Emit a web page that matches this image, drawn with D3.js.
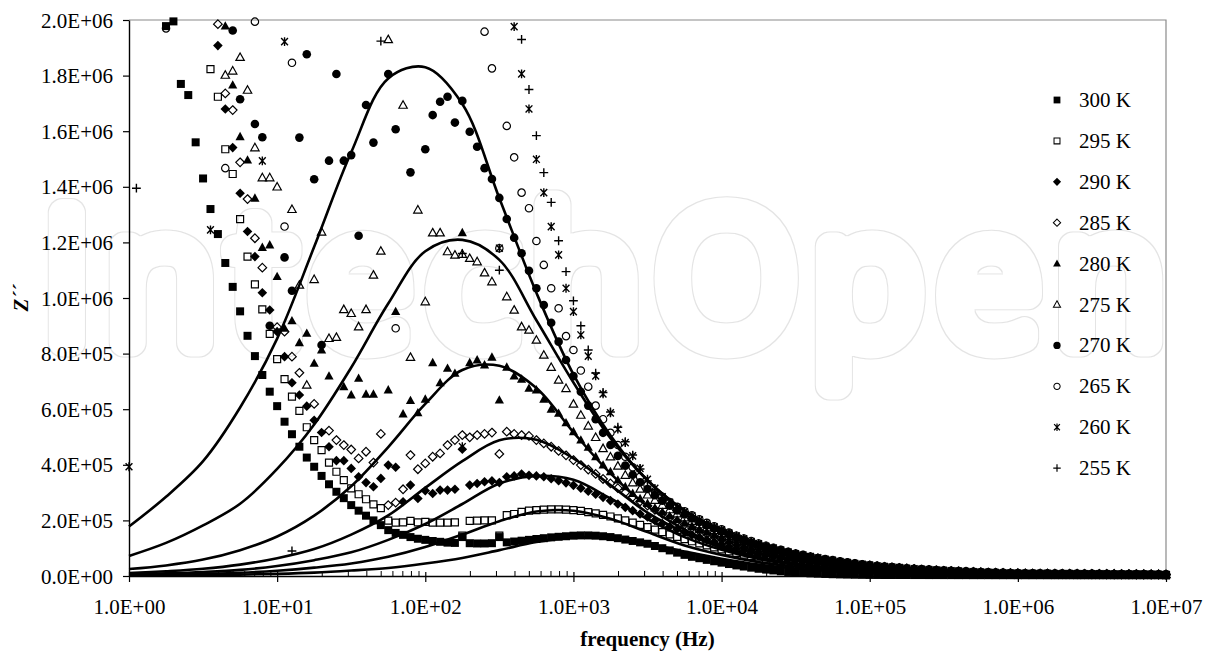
<!DOCTYPE html>
<html>
<head>
<meta charset="utf-8">
<script src="https://cdn.jsdelivr.net/npm/d3@7"></script>
<style>
  html, body { margin: 0; padding: 0; background: #fff; }
  svg { display: block; }
</style>
</head>
<body>
<svg id="chart" width="1211" height="653"></svg>
<script>
// ---------- data ----------
const _ = null;   // no reading on the chart at this frequency

// measurement frequencies: 20 points per decade, 1 Hz .. 10 MHz
const freqMantissas = [1, 1.122, 1.259, 1.413, 1.585, 1.778, 1.995, 2.239, 2.512, 2.818,
                       3.162, 3.548, 3.981, 4.467, 5.012, 5.623, 6.310, 7.079, 7.943, 8.913];
const freqDecades = [1, 10, 100, 1000, 10000, 100000, 1000000];
const freqLast = 10000000;

const xTicks = [1, 10, 100, 1000, 10000, 100000, 1000000, 10000000];
const minorSteps = [2, 3, 4, 5, 6, 7, 8, 9];
const yTicks = [0, 200000, 400000, 600000, 800000, 1000000, 1200000, 1400000, 1600000, 1800000, 2000000];

const seriesLabels = ["300 K", "295 K", "290 K", "285 K", "280 K", "275 K", "270 K", "265 K", "260 K", "255 K"];

// Z'' in kOhm, one value per measurement frequency
const z300 = [
  _, _, _, _, _, 1978, 1995, 1770, 1730, 1560, 1430, 1320, 1230, 1126, 1040, 952, 864, 791, 723, 663,
  611, 555, 510, 465, 426, 393, 360, 330, 303, 280, 255, 235, 217, 200, 183, 165, 155, 148, 140, 134,
  130, 126, 123, 120, 119, 140, 118, 117, 117, 118, 140, 121, 124, 127, 130, 133, 136, 139, 141, 143,
  145, 146, 146, 145, 143, 140, 136, 131, 126, 121, 116, 108, 100, 92, 84, 76, 69, 64, 58, 53,
  48, 43, 38, 34, 30, 26, 23, 20, 17, 14.5, 12.5, 11, 9.5, 8.3, 7.3, 6.4, 5.6, 5.0, 4.5, 4.1,
  3.8, 3.7, 3.6, 3.6, 3.5, 3.5, 3.4, 3.4, 3.3, 3.3, 3.2, 3.2, 3.1, 3.1, 3.0, 3.0, 3.0, 2.9, 2.9, 2.9,
  2.8, 2.8, 2.8, 2.8, 2.7, 2.7, 2.7, 2.7, 2.6, 2.6, 2.6, 2.6, 2.6, 2.5, 2.5, 2.5, 2.5, 2.5, 2.5, 2.5,
  2.5];
const z295 = [
  _, _, _, _, _, _, _, _, _, _, _, 1823, 1724, 1535, 1446, 1284, 1149, 1049, 959, 871,
  780, 708, 645, 594, 535, 489, 453, 408, 375, 345, 315, 294, 276, 258, 244, 199, 192, 193, 198, 193,
  195, 192, 192, 192, 193, 145, 198, 199, 200, 200, 145, 219, 223, 231, 235, 237, 239, 240, 240, 239,
  237, 234, 230, 225, 220, 214, 207, 200, 192, 184, 176, 167, 158, 150, 141, 133, 125, 117, 110, 103,
  96, 89, 83, 77, 72, 67, 62, 58, 54, 50, 46, 43, 40, 37, 35, 32, 30, 28, 26, 24,
  22.5, 21, 19.7, 18.3, 17.2, 16, 15, 14, 13.2, 12.3, 11.4, 10.8, 10, 9.4, 8.7, 8.2, 7.7, 7.2, 6.7, 6.2,
  5.9, 5.7, 5.6, 5.4, 5.3, 5.2, 5.0, 4.9, 4.8, 4.7, 4.6, 4.4, 4.3, 4.2, 4.1, 4.0, 3.9, 3.8, 3.7, 3.6,
  3.5];
const z290 = [
  _, _, _, _, _, _, _, _, _, _, _, _, 1908, 1680, 1541, 1377, 1239, 1149, 1019, 957,
  879, 789, 695, 651, 611, 560, 516, 465, 415, 415, 387, 357, 336, 321, 351, 399, 391, 267, 327, 279,
  307, 297, 309, 309, 312, 456, 327, 333, 339, 342, 336, 357, 360, 367, 362, 360, 357, 350, 343, 335,
  326, 316, 305, 294, 283, 271, 259, 247, 235, 223, 212, 200, 189, 178, 168, 158, 148, 139, 130, 122,
  114, 106, 99, 92, 85, 79, 74, 69, 64, 59, 55, 51, 48, 44, 41, 38, 36, 33, 31, 29,
  27, 25, 23, 22, 20, 19, 17.8, 16.6, 15.6, 14.6, 13.6, 12.8, 11.9, 11.2, 10.4, 9.7, 9.1, 8.6, 8.0, 7.4,
  7.0, 6.8, 6.6, 6.5, 6.3, 6.1, 6.0, 5.8, 5.7, 5.5, 5.4, 5.3, 5.1, 5.0, 4.9, 4.8, 4.7, 4.5, 4.4, 4.3,
  4.2];
const z285 = [
  _, _, _, _, _, _, _, _, _, _, _, _, 1985, 1736, 1676, 1488, 1356, 1215, 1109, _,
  895, 879, 789, 731, _, 619, _, 523, 489, 471, 455, 423, 447, 408, 511, 255, 264, 312, 435, 384,
  405, 429, 441, 471, 489, 507, 499, 507, 511, 516, 439, 519, 511, 507, 504, 489, 477, 465, 450, 434,
  417, 399, 383, 367, 349, 333, 316, 300, 284, 268, 253, 238, 224, 210, 197, 185, 173, 162, 152, 142,
  133, 124, 115, 107, 99, 93, 86, 80, 74, 69, 64, 60, 56, 52, 48, 45, 42, 39, 36, 34,
  31, 29, 27, 25, 24, 22, 20.7, 19.4, 18.2, 17, 15.8, 14.9, 13.8, 13, 12.1, 11.3, 10.6, 10, 9.3, 8.6,
  8.1, 7.9, 7.7, 7.5, 7.3, 7.2, 7.0, 6.8, 6.6, 6.5, 6.3, 6.1, 6.0, 5.9, 5.7, 5.6, 5.4, 5.3, 5.2, 5.0,
  4.9];
const z280 = [
  _, _, _, _, _, _, _, _, _, _, _, _, _, 1978, 1766, 1580, 1496, 1359, 1182, 1191,
  1077, 891, 918, 839, 873, 765, 813, 719, _, 681, 651, 711, 654, 654, _, 669, 951, 583, 631, 587,
  636, 767, 695, 747, 729, 1235, 767, 777, 759, 787, 633, 751, 719, 708, 675, 669, 636, 600, 585, 551,
  519, 489, 463, 429, 399, 375, 345, 321, 297, 278, 261, 245, 230, 216, 202, 190, 178, 167, 157, 147,
  138, 128, 119, 111, 103, 96, 89, 83, 77, 72, 67, 62, 58, 54, 50, 47, 43, 40, 37, 35,
  32, 30, 28, 26, 25, 23, 21.5, 20, 18.9, 17.7, 16.4, 15.5, 14.4, 13.5, 12.6, 11.7, 11, 10.4, 9.7, 9.0,
  8.4, 8.2, 8.0, 7.8, 7.6, 7.4, 7.2, 7.1, 6.9, 6.7, 6.5, 6.4, 6.2, 6.1, 5.9, 5.8, 5.6, 5.5, 5.4, 5.2,
  5.1];
const z275 = [
  _, _, _, _, _, _, _, _, _, _, _, _, _, 1802, 1817, 1866, 1748, 1541, 1433, 1433,
  1400, _, 1319, 1047, 687, 1067, 1238, 855, 859, 959, 945, 897, 959, 1083, 1169, 1930, _, 1694, 787, 1317,
  987, 1235, 1235, 1167, 1155, 1158, 1143, 1131, 1091, 1059, _, 1005, 957, 897, 885, 849, 795, 751, 705, 675,
  619, 579, 540, 499, 459, 429, 396, 363, 336, 313, 292, 273, 255, 239, 224, 210, 197, 185, 174, 164,
  154, 143, 133, 124, 115, 107, 100, 93, 86, 80, 75, 69, 65, 60, 56, 52, 48, 45, 42, 39,
  36, 34, 32, 29, 28, 26, 24, 22.5, 21, 19.7, 18.3, 17.2, 16, 15.1, 14, 13.1, 12.3, 11.6, 10.8, 10,
  9.4, 9.2, 8.9, 8.7, 8.5, 8.3, 8.1, 7.9, 7.7, 7.5, 7.3, 7.1, 6.9, 6.8, 6.6, 6.4, 6.3, 6.1, 6.0, 5.8,
  5.7];
const z270 = [
  _, _, _, _, _, _, _, _, _, _, _, _, _, _, 1962, 1715, _, 1626, 1578, 900,
  _, 1146, 1026, 1577, 1877, 1427, 831, 1494, 1806, 1494, 1514, 1224, 1694, 1559, _, 1806, 1607, _, 1452, _,
  1535, 1658, 1706, 1724, 1631, 1709, 1598, 1544, 1467, 1428, 1360, 1284, 1217, 1161, 1098, 1035, 975, 911, 843, 777,
  719, 663, 613, 564, 515, 471, 432, 397, 364, 337, 313, 291, 271, 253, 236, 221, 207, 194, 182, 171,
  161, 150, 139, 129, 120, 112, 104, 97, 90, 84, 78, 72, 67, 63, 58, 54, 50, 47, 44, 41,
  38, 35, 33, 31, 29, 27, 25, 23.5, 22, 20.6, 19.2, 18, 16.7, 15.8, 14.7, 13.7, 12.9, 12.1, 11.3, 10.5,
  9.8, 9.6, 9.3, 9.1, 8.9, 8.7, 8.5, 8.2, 8.0, 7.8, 7.6, 7.4, 7.3, 7.1, 6.9, 6.7, 6.6, 6.4, 6.2, 6.1,
  5.9];
const z265 = [
  _, _, _, _, _, 1970, _, _, _, _, _, _, _, 1467, _, _, _, 1994, _, _,
  _, 1257, 1846, _, _, _, _, _, _, _, _, _, _, _, _, _, 891, _, _, _,
  _, _, _, _, _, _, _, _, 1958, 1826, 1179, 1619, 1506, 1379, 1323, 1205, 1119, 1035, 963, 863,
  813, 739, 681, 613, 564, 515, 471, 429, 391, 357, 327, 305, 285, 266, 249, 233, 218, 204, 191, 179,
  168, 156, 145, 135, 126, 117, 109, 101, 94, 87, 81, 76, 70, 65, 61, 57, 53, 49, 46, 42,
  39, 37, 34, 32, 30, 28, 26, 25, 23, 21.5, 20, 18.8, 17.5, 16.5, 15.3, 14.3, 13.4, 12.6, 11.8, 10.9,
  10.2, 10.0, 9.7, 9.5, 9.3, 9.0, 8.8, 8.6, 8.4, 8.2, 8.0, 7.8, 7.6, 7.4, 7.2, 7.0, 6.9, 6.7, 6.5, 6.4,
  6.2];
const z260 = [
  393, _, _, _, _, _, _, _, _, _, _, 1245, _, _, _, _, _, _, 1493, _,
  _, 1922, _, _, _, _, _, _, _, _, _, _, _, _, _, _, _, _, _, _,
  _, _, _, _, _, 465, _, _, _, _, 1179, _, 1976, 1806, 1680, 1499, 1379, 1257, 1155, 1035,
  951, 867, 791, 720, 655, 587, 528, 480, 432, 387, 348, 315, 285, 265, 247, 231, 216, 202, 189, 177,
  166, 154, 144, 134, 124, 116, 107, 100, 93, 86, 80, 75, 70, 65, 60, 56, 52, 48, 45, 42,
  39, 36, 34, 32, 30, 28, 26, 24, 23, 21, 20, 18.6, 17.3, 16.3, 15.1, 14.1, 13.3, 12.5, 11.6, 10.8,
  10.1, 9.9, 9.6, 9.4, 9.2, 8.9, 8.7, 8.5, 8.3, 8.1, 7.9, 7.7, 7.5, 7.3, 7.1, 6.9, 6.8, 6.6, 6.4, 6.3,
  6.1];
const z255 = [
  _, 1395, _, _, _, _, _, _, _, _, _, _, _, _, _, _, _, _, _, _,
  _, _, 90, _, _, _, _, _, _, _, _, _, _, _, 1924, _, _, _, _, _,
  _, _, _, _, _, 1160, _, _, _, _, 1100, _, _, 1930, 1750, 1584, 1451, 1344, 1206, 1095,
  990, 900, 813, 730, 660, 590, 535, 483, 435, 385, 342, 310, 279, 260, 243, 227, 213, 199, 187, 176,
  165, 153, 143, 133, 123, 115, 107, 99, 92, 86, 80, 74, 69, 64, 60, 56, 52, 48, 45, 42,
  39, 36, 34, 32, 30, 28, 26, 24, 23, 21, 20, 18.5, 17.2, 16.2, 15, 14, 13.2, 12.4, 11.6, 10.7,
  10.1, 9.8, 9.6, 9.3, 9.1, 8.9, 8.7, 8.4, 8.2, 8.0, 7.8, 7.6, 7.4, 7.3, 7.1, 6.9, 6.7, 6.6, 6.4, 6.2,
  6.1];

// fitted relaxation curves (kOhm) sampled every quarter decade, log10(f) = 0 .. 7
const fitLogF = [0, 0.25, 0.5, 0.75, 1, 1.25, 1.5, 1.75, 2, 2.25, 2.5, 2.75, 3, 3.25, 3.5, 3.75,
                 4, 4.25, 4.5, 4.75, 5, 5.25, 5.5, 5.75, 6, 6.25, 6.5, 6.75, 7];
const fit270 = [178, 285, 413, 606, 854, 1184, 1524, 1790, 1830, 1698, 1359, 1019, 725, 505, 343, 235,
                156, 103, 70, 46, 29, 20, 13, 8.4, 5.5, 4, 2.8, 1.9, 1.1];
const fit275 = [72, 119, 182, 260, 385, 545, 750, 980, 1168, 1209, 1137, 920, 696, 496, 345, 236,
                162, 106, 71, 48, 31, 20, 13, 8.5, 5.9, 4.3, 3.1, 2.2, 1.6];
const fit280 = [25, 38, 59, 93, 142, 217, 323, 464, 619, 741, 756, 676, 517, 369, 251, 167,
                108, 68, 44, 29, 18, 11, 7, 4.5, 2.8, 2.0, 1.4, 1.0, 0.7];
const fit285 = [10.4, 17, 26, 41, 64, 97, 149, 218, 317, 413, 488, 490, 423, 327, 228, 156,
                101, 67, 43, 28, 18, 11.4, 7.4, 4.7, 3, 2, 1.3, 0.9, 0.6];
const fit290 = [5.8, 9.4, 14.4, 22, 36, 57, 85, 130, 187, 259, 333, 360, 346, 279, 205, 140,
                94, 61, 40, 25, 16.6, 10.8, 6.8, 4.3, 2.8, 1.8, 1.2, 0.8, 0.5];
const fit295 = [3.1, 4.7, 7.8, 11.9, 19, 30, 45, 69, 104, 149, 197, 232, 235, 206, 158, 110,
                76, 50, 33, 21, 13.3, 8.5, 5.5, 3.5, 2.3, 1.5, 1.0, 0.6, 0.4];
const fit300 = [1.3, 2, 3.1, 5, 7.8, 12.2, 19.6, 29, 45, 65, 93, 122, 139, 137, 116, 88,
                62, 41, 27, 17.6, 11.2, 7, 4.6, 2.8, 1.8, 1.2, 0.8, 0.5, 0.3];

// ---------- layout ----------
const KOHM = 1000;
const plot = { left: 129, right: 1166, top: 20, bottom: 576 };
const FONT = "'Liberation Serif', 'Times New Roman', serif";

const svg = d3.select("#chart");
const x = d3.scaleLog().domain([1, 1e7]).range([plot.left, plot.right]);
const y = d3.scaleLinear().domain([0, 2e6]).range([plot.bottom, plot.top]);

const freqs = freqDecades.flatMap(d => freqMantissas.map(m => m * d)).concat([freqLast]);

function sci(v) {
  if (v === 0) return "0.0E+00";
  const e = Math.floor(Math.log10(v) + 1e-9);
  const m = v / Math.pow(10, e);
  return m.toFixed(1) + "E+" + String(e).padStart(2, "0");
}

// ---------- watermark (hollow outlined lettering) ----------
const defs = svg.append("defs");
const hollow = defs.append("filter").attr("id", "hollow")
  .attr("filterUnits", "userSpaceOnUse")
  .attr("x", 0).attr("y", 120).attr("width", 1211).attr("height", 360);
hollow.append("feMorphology").attr("in", "SourceAlpha").attr("operator", "erode")
  .attr("radius", 1.4).attr("result", "inner");
hollow.append("feComposite").attr("in", "SourceGraphic").attr("in2", "inner").attr("operator", "out");

const wmText = svg.append("text")
  .attr("x", 0).attr("y", 343)
  .attr("font-family", "'Open Sans', 'Lato', sans-serif")
  .attr("font-weight", 300)
  .attr("font-size", 182)
  .attr("fill", "none")
  .attr("stroke", "#e4e4e4")
  .attr("stroke-width", 29)
  .attr("stroke-linejoin", "round")
  .attr("stroke-linecap", "round")
  .attr("filter", "url(#hollow)")
  .text("IntechOpen");
{
  const node = wmText.node();
  let bb = node.getBBox();
  const gap = (1120 - bb.width) / 9;
  wmText.attr("letter-spacing", gap);
  bb = node.getBBox();
  wmText.attr("x", 44 - bb.x);
}

// ---------- plot frame ----------
svg.append("path")
  .attr("d", `M${plot.left},${plot.top}H${plot.right}V${plot.bottom}`)
  .attr("fill", "none").attr("stroke", "#8a8a8a").attr("stroke-width", 1.2);

// ---------- axes ----------
const minorTicks = freqDecades.flatMap(d => minorSteps.map(s => s * d));

const xMinor = svg.append("g")
  .attr("transform", `translate(0,${plot.bottom})`)
  .call(d3.axisBottom(x).tickValues(minorTicks).tickSize(-5).tickFormat(""));
xMinor.select(".domain").remove();
xMinor.selectAll("line").attr("stroke", "#000").attr("stroke-width", 1);

const xAxis = svg.append("g")
  .attr("transform", `translate(0,${plot.bottom})`)
  .call(d3.axisBottom(x).tickValues(xTicks).tickSizeOuter(0).tickFormat(sci));
xAxis.select(".domain").attr("stroke", "#000").attr("stroke-width", 1.4);
xAxis.selectAll(".tick line").attr("y1", -4).attr("y2", 6).attr("stroke", "#000").attr("stroke-width", 1.2);
xAxis.selectAll(".tick text")
  .attr("y", 38).attr("dy", 0)
  .attr("font-family", FONT).attr("font-size", 21).attr("fill", "#000");

const yAxis = svg.append("g")
  .attr("transform", `translate(${plot.left},0)`)
  .call(d3.axisLeft(y).tickValues(yTicks).tickSize(6).tickSizeOuter(0).tickPadding(10).tickFormat(sci));
yAxis.select(".domain").attr("stroke", "#000").attr("stroke-width", 1.4);
yAxis.selectAll(".tick line").attr("stroke", "#000").attr("stroke-width", 1.2);
yAxis.selectAll(".tick text")
  .attr("dy", "0.34em")
  .attr("font-family", FONT).attr("font-size", 21).attr("fill", "#000");

svg.append("text")
  .attr("x", (plot.left + plot.right) / 2).attr("y", 646)
  .attr("text-anchor", "middle")
  .attr("font-family", FONT).attr("font-size", 21).attr("font-weight", "bold")
  .text("frequency (Hz)");

svg.append("text")
  .attr("transform", `translate(28,${(plot.top + plot.bottom) / 2}) rotate(-90)`)
  .attr("text-anchor", "middle")
  .attr("font-family", FONT).attr("font-size", 21).attr("font-weight", "bold").attr("font-style", "italic")
  .text("Z\u00B4\u00B4");

// ---------- markers ----------
const circlePath = r => `M${r},0A${r},${r} 0 1,1 ${-r},0A${r},${r} 0 1,1 ${r},0Z`;
const markerStyles = [
  { d: "M-4,-4H4V4H-4Z", fill: "#000", stroke: "none", sw: 0 },                       // 300 K
  { d: "M-3.5,-3.5H3.5V3.5H-3.5Z", fill: "none", stroke: "#000", sw: 1.2 },           // 295 K
  { d: "M0,-4.8L4.8,0L0,4.8L-4.8,0Z", fill: "#000", stroke: "none", sw: 0 },          // 290 K
  { d: "M0,-4.3L4.3,0L0,4.3L-4.3,0Z", fill: "none", stroke: "#000", sw: 1.2 },        // 285 K
  { d: "M0,-4.9L4.6,3.5L-4.6,3.5Z", fill: "#000", stroke: "none", sw: 0 },            // 280 K
  { d: "M0,-4.3L4.2,3.2L-4.2,3.2Z", fill: "none", stroke: "#000", sw: 1.2 },          // 275 K
  { d: circlePath(4.3), fill: "#000", stroke: "none", sw: 0 },                         // 270 K
  { d: circlePath(3.7), fill: "none", stroke: "#000", sw: 1.2 },                       // 265 K
  { d: "M-3.4,-3.6L3.4,3.6M-3.4,3.6L3.4,-3.6M0,-4.4V4.4", fill: "none", stroke: "#000", sw: 1.4 }, // 260 K
  { d: "M-4.4,0H4.4M0,-4.4V4.4", fill: "none", stroke: "#000", sw: 1.4 }             // 255 K
];
const seriesValues = [z300, z295, z290, z285, z280, z275, z270, z265, z260, z255];

const pointsLayer = svg.append("g").attr("class", "points");
seriesValues.forEach((vals, si) => {
  const st = markerStyles[si];
  const pts = vals.map((v, i) => v == null ? null : { f: freqs[i], z: v * KOHM }).filter(Boolean);
  pointsLayer.append("g")
    .selectAll("path")
    .data(pts)
    .join("path")
    .attr("d", st.d)
    .attr("transform", d => `translate(${x(d.f)},${y(d.z)})`)
    .attr("fill", st.fill)
    .attr("stroke", st.stroke)
    .attr("stroke-width", st.sw);
});

// ---------- fitted curves ----------
const fits = [fit270, fit275, fit280, fit285, fit290, fit295, fit300];
const line = d3.line()
  .x(d => x(Math.pow(10, d.lf)))
  .y(d => y(d.z))
  .curve(d3.curveCatmullRom.alpha(0.5));
svg.append("g").attr("class", "fits")
  .selectAll("path")
  .data(fits.map(vals => vals.map((v, i) => ({ lf: fitLogF[i], z: v * KOHM }))))
  .join("path")
  .attr("d", line)
  .attr("fill", "none")
  .attr("stroke", "#000")
  .attr("stroke-width", 2.6);

// ---------- legend ----------
const legend = svg.append("g").attr("class", "legend");
seriesLabels.forEach((lab, i) => {
  const cy = 100 + i * 40.9;
  const st = markerStyles[i];
  legend.append("path")
    .attr("d", st.d)
    .attr("transform", `translate(1057,${cy}) scale(0.85)`)
    .attr("fill", st.fill).attr("stroke", st.stroke).attr("stroke-width", st.sw);
  legend.append("text")
    .attr("x", 1079).attr("y", cy + 7)
    .attr("font-family", FONT).attr("font-size", 21)
    .text(lab);
});
</script>
</body>
</html>
